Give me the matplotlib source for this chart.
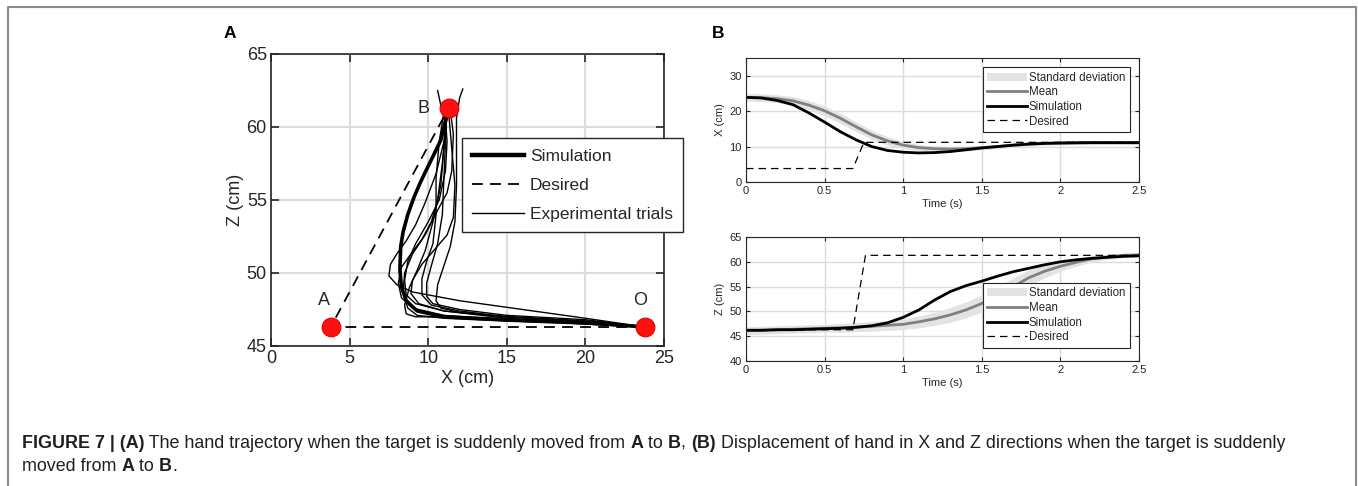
import matplotlib
matplotlib.use("Agg")
import matplotlib.pyplot as plt
from matplotlib.lines import Line2D

plt.rcParams['font.family'] = ['Liberation Sans', 'DejaVu Sans']

# ---- Panel A data (cm) ----
pt_A = (3.8, 46.3)
pt_B = (11.3, 61.3)
pt_O = (23.8, 46.3)

desired_x = [23.8, 3.8, 11.3]
desired_z = [46.3, 46.3, 61.3]

sim_x = [23.8, 20.0, 15.0, 11.0, 9.3, 8.6, 8.3, 8.2, 8.25, 8.4, 8.7, 9.1, 9.5, 9.9, 10.4, 10.8, 11.3]
sim_z = [46.3, 46.6, 46.8, 47.0, 47.4, 48.1, 49.05, 50.2, 51.8, 52.8, 54.0, 55.2, 56.2, 57.1, 58.2, 59.1, 61.3]

trials_x = [
    [23.8, 20.0, 16.0, 12.0, 9.0, 8.0, 7.5, 7.6, 8.0, 8.6, 9.2, 9.8, 10.5, 11.0, 11.2],
    [23.8, 20.0, 15.0, 11.0, 9.2, 8.6, 8.5, 8.7, 9.2, 10.0, 10.7, 11.1, 11.2, 11.1, 10.8, 10.6],
    [23.8, 20.0, 15.0, 11.0, 9.2, 8.6, 8.5, 8.8, 9.3, 9.8, 10.3, 10.8, 11.0, 11.2],
    [23.8, 20.0, 15.0, 12.0, 10.3, 9.9, 9.9, 10.2, 10.6, 10.9, 11.0, 11.1, 11.2],
    [23.8, 20.0, 15.0, 12.0, 10.8, 10.5, 10.6, 11.0, 11.4, 11.7, 11.8, 11.8, 11.8, 12.0, 12.2],
    [23.8, 20.0, 15.0, 11.0, 9.4, 8.9, 9.0, 9.6, 10.4, 11.2, 11.6, 11.7, 11.5, 11.3],
    [23.8, 20.0, 15.0, 11.0, 9.0, 8.3, 8.1, 8.3, 8.9, 9.6, 10.2, 10.6, 10.9, 11.1, 11.3],
    [23.8, 20.0, 15.0, 12.0, 10.2, 9.6, 9.6, 9.9, 10.3, 10.5, 10.5, 10.7, 11.0],
    [23.8, 20.0, 15.0, 11.0, 9.3, 8.7, 8.4, 8.5, 9.0, 9.8, 10.6, 11.2, 11.5, 11.6, 11.4],
]
trials_z = [
    [46.3, 46.9, 47.5, 48.1, 48.7, 49.2, 49.8, 50.6, 51.3, 52.2, 53.3, 54.8, 56.8, 59.0, 61.3],
    [46.3, 46.7, 47.0, 47.4, 47.9, 48.5, 49.5, 50.8, 52.0, 53.5, 55.0, 57.0, 59.0, 60.5, 61.5, 62.5],
    [46.3, 46.6, 46.8, 47.0, 47.0, 47.2, 47.8, 49.0, 50.2, 51.5, 53.5, 56.0, 58.5, 61.3],
    [46.3, 46.8, 47.1, 47.5, 47.9, 48.4, 49.3, 50.5, 52.0, 54.0, 56.5, 59.0, 61.3],
    [46.3, 46.7, 47.0, 47.3, 47.6, 48.1, 49.2, 50.5, 51.8, 53.5, 56.0, 58.5, 60.6, 62.0, 62.6],
    [46.3, 46.5, 46.9, 47.4, 47.9, 48.6, 49.5, 50.6, 51.6, 52.6, 53.8, 56.0, 58.5, 61.0],
    [46.3, 46.6, 46.8, 47.1, 47.6, 48.3, 49.3, 50.4, 51.3, 52.3, 53.5, 55.0, 57.5, 60.0, 61.3],
    [46.3, 46.7, 47.0, 47.4, 47.8, 48.5, 49.6, 50.8, 52.0, 54.0, 56.5, 59.0, 61.0],
    [46.3, 46.5, 46.7, 46.9, 47.1, 47.6, 48.6, 50.0, 51.3, 52.6, 54.3, 55.5, 57.0, 59.5, 61.2],
]

# ---- Panel B data ----
t = [0.0, 0.1, 0.2, 0.3, 0.4, 0.5, 0.6, 0.7, 0.8, 0.9, 1.0, 1.1, 1.2,
     1.3, 1.4, 1.5, 1.6, 1.7, 1.8, 1.9, 2.0, 2.1, 2.2, 2.3, 2.4, 2.5]

x_sim = [23.9, 23.7, 23.0, 21.8, 19.5, 16.9, 14.2, 11.9, 10.0, 8.9, 8.4, 8.2, 8.3,
         8.6, 9.1, 9.6, 10.0, 10.4, 10.7, 10.9, 11.0, 11.05, 11.1, 11.1, 11.1, 11.1]
x_mean = [23.9, 23.8, 23.5, 22.9, 21.7, 20.1, 18.0, 15.6, 13.3, 11.6, 10.4, 9.7, 9.4,
          9.3, 9.4, 9.7, 10.0, 10.4, 10.7, 10.9, 11.0, 11.1, 11.1, 11.1, 11.1, 11.1]
x_std = [1.1, 1.1, 1.1, 1.2, 1.3, 1.4, 1.4, 1.4, 1.3, 1.2, 1.0, 0.9, 0.8,
         0.7, 0.7, 0.6, 0.6, 0.6, 0.5, 0.5, 0.5, 0.5, 0.5, 0.5, 0.5, 0.5]
t_des_x = [0.0, 0.68, 0.75, 2.5]
x_des = [3.8, 3.8, 11.2, 11.2]

z_sim = [46.2, 46.2, 46.3, 46.3, 46.4, 46.5, 46.6, 46.8, 47.1, 47.7, 48.8, 50.3, 52.3,
         54.0, 55.2, 56.1, 57.1, 58.0, 58.7, 59.4, 60.0, 60.4, 60.7, 60.9, 61.1, 61.2]
z_mean = [46.1, 46.2, 46.3, 46.4, 46.5, 46.6, 46.7, 46.8, 47.0, 47.2, 47.4, 47.9, 48.5,
          49.3, 50.3, 51.6, 53.2, 55.0, 56.8, 58.1, 59.1, 59.9, 60.6, 61.0, 61.3, 61.4]
z_std = [0.8, 0.8, 0.8, 0.8, 0.8, 0.8, 0.9, 0.9, 1.0, 1.0, 1.1, 1.2, 1.3,
         1.5, 1.6, 1.7, 1.8, 1.8, 1.6, 1.3, 1.0, 0.8, 0.6, 0.5, 0.4, 0.4]
t_des_z = [0.0, 0.68, 0.76, 2.5]
z_des = [46.3, 46.3, 61.3, 61.3]

W, H = 1358, 486
fig = plt.figure(figsize=(W / 100, H / 100), dpi=100)

TXT = '#262626'
GRID = '#dcdcdc'


def matlab_axes(ax, fs, lw=1.0, tlen=4):
    ax.tick_params(direction='in', top=True, right=True, labelsize=fs,
                   colors=TXT, length=tlen, width=lw, pad=3)
    for s in ax.spines.values():
        s.set_color(TXT)
        s.set_linewidth(lw)
    ax.grid(True, color=GRID, linewidth=lw * 1.3)
    ax.set_axisbelow(True)


# ---- Panel A ----
axA = fig.add_axes([271 / W, 1 - 346 / H, 393 / W, 292 / H])
matlab_axes(axA, 13, lw=1.2, tlen=6)
for tx, tz in zip(trials_x, trials_z):
    axA.plot(tx, tz, color='black', lw=1.0)
axA.plot(sim_x, sim_z, color='black', lw=2.6, solid_capstyle='round')
axA.plot(desired_x, desired_z, color='black', lw=1.3, dashes=(6, 4))
for p in (pt_A, pt_B, pt_O):
    axA.plot(*p, 'o', ms=13.5, mfc='#ff1010', mec='#e00000', mew=0.8, zorder=5)
axA.text(pt_A[0] - 0.4, pt_A[1] + 1.85, 'A', fontsize=13, ha='center', va='center', color=TXT)
axA.text(pt_B[0] - 1.6, pt_B[1], 'B', fontsize=13, ha='center', va='center', color=TXT)
axA.text(pt_O[0] - 0.3, pt_O[1] + 1.85, 'O', fontsize=13, ha='center', va='center', color=TXT)
axA.set_xlim(0, 25)
axA.set_ylim(45, 65)
axA.set_xticks([0, 5, 10, 15, 20, 25])
axA.set_yticks([45, 50, 55, 60, 65])
axA.set_xlabel('X (cm)', fontsize=13, color=TXT, labelpad=2)
axA.set_ylabel('Z (cm)', fontsize=13, color=TXT, labelpad=2)
hA = [Line2D([], [], color='black', lw=3.2),
      Line2D([], [], color='black', lw=1.3, dashes=(6, 4)),
      Line2D([], [], color='black', lw=1.0)]
legA = axA.legend(hA, ['Simulation', 'Desired', 'Experimental trials'],
                  loc='upper left', bbox_to_anchor=(0.486, 0.712), fontsize=12.5,
                  handlelength=3.0, handletextpad=0.3, labelspacing=0.8,
                  borderpad=0.6, borderaxespad=0, fancybox=False, framealpha=1)
legA.get_frame().set_edgecolor(TXT)
legA.get_frame().set_linewidth(1.0)
for txt in legA.get_texts():
    txt.set_color(TXT)


# ---- Panel B ----
def panel_b(rect, y_sim, y_mean, y_std, t_des, y_des, ylim, yticks):
    ax = fig.add_axes(rect)
    matlab_axes(ax, 8, lw=0.8, tlen=3)
    lo = [m - s for m, s in zip(y_mean, y_std)]
    hi = [m + s for m, s in zip(y_mean, y_std)]
    ax.fill_between(t, lo, hi, color='#e3e3e3', lw=0, label='Standard deviation')
    ax.plot(t, y_mean, color='#808080', lw=2.0, label='Mean')
    ax.plot(t, y_sim, color='black', lw=2.0, label='Simulation')
    ax.plot(t_des, y_des, color='black', lw=0.9, dashes=(6, 4), label='Desired')
    ax.set_xlim(0, 2.5)
    ax.set_ylim(*ylim)
    ax.set_xticks([0, 0.5, 1, 1.5, 2, 2.5])
    ax.set_xticklabels(['0', '0.5', '1', '1.5', '2', '2.5'])
    ax.set_yticks(yticks)
    ax.set_xlabel('Time (s)', fontsize=8, color=TXT, labelpad=2)
    return ax


axX = panel_b([746 / W, 1 - 182 / H, 393 / W, 124 / H], x_sim, x_mean, x_std,
              t_des_x, x_des, (0, 35), [0, 10, 20, 30])
axX.set_ylabel('X (cm)', fontsize=8, color=TXT, labelpad=3)
axZ = panel_b([746 / W, 1 - 361 / H, 393 / W, 124 / H], z_sim, z_mean, z_std,
              t_des_z, z_des, (40, 65), [40, 45, 50, 55, 60, 65])
axZ.set_ylabel('Z (cm)', fontsize=8, color=TXT, labelpad=3)

for ax, top in ((axX, 0.925), (axZ, 0.63)):
    leg = ax.legend(loc='upper right', bbox_to_anchor=(0.977, top), fontsize=8.3,
                    handlelength=3.4, handletextpad=0.2, labelspacing=0.22,
                    borderpad=0.4, borderaxespad=0, fancybox=False, framealpha=1)
    leg.get_frame().set_edgecolor(TXT)
    leg.get_frame().set_linewidth(0.8)
    for txt in leg.get_texts():
        txt.set_color(TXT)

# panel letters
fig.text(230 / W, 1 - 33 / H, 'A', fontsize=12.5, fontweight='bold', ha='center', va='center')
fig.text(718 / W, 1 - 33 / H, 'B', fontsize=12.5, fontweight='bold', ha='center', va='center')

# ---- caption with mixed weights ----
renderer = fig.canvas.get_renderer()


def rich_line(x0, y0, parts, fs=12.9):
    x = x0
    for s, bold in parts:
        tt = fig.text(x, y0, s, fontsize=fs, color='#231f20', va='center',
                      fontweight='bold' if bold else 'normal')
        x += tt.get_window_extent(renderer).width / fig.bbox.width


rich_line(22 / W, 1 - 443 / H, [
    ('FIGURE 7 | (A)', True),
    (' The hand trajectory when the target is suddenly moved from ', False),
    ('A', True), (' to ', False), ('B', True), (', ', False), ('(B)', True),
    (' Displacement of hand in X and Z directions when the target is suddenly', False)])
rich_line(22 / W, 1 - 466 / H, [
    ('moved from ', False), ('A', True), (' to ', False), ('B', True), ('.', False)])

# frame around the figure (open at the bottom)
fx = [7.5 / W, 7.5 / W, 1355.5 / W, 1355.5 / W]
fy = [0.0, 1 - 7 / H, 1 - 7 / H, 0.0]
fig.add_artist(Line2D(fx, fy, color='#8a8a8a', lw=1.5, transform=fig.transFigure))

fig.savefig('out.png', dpi=100)
